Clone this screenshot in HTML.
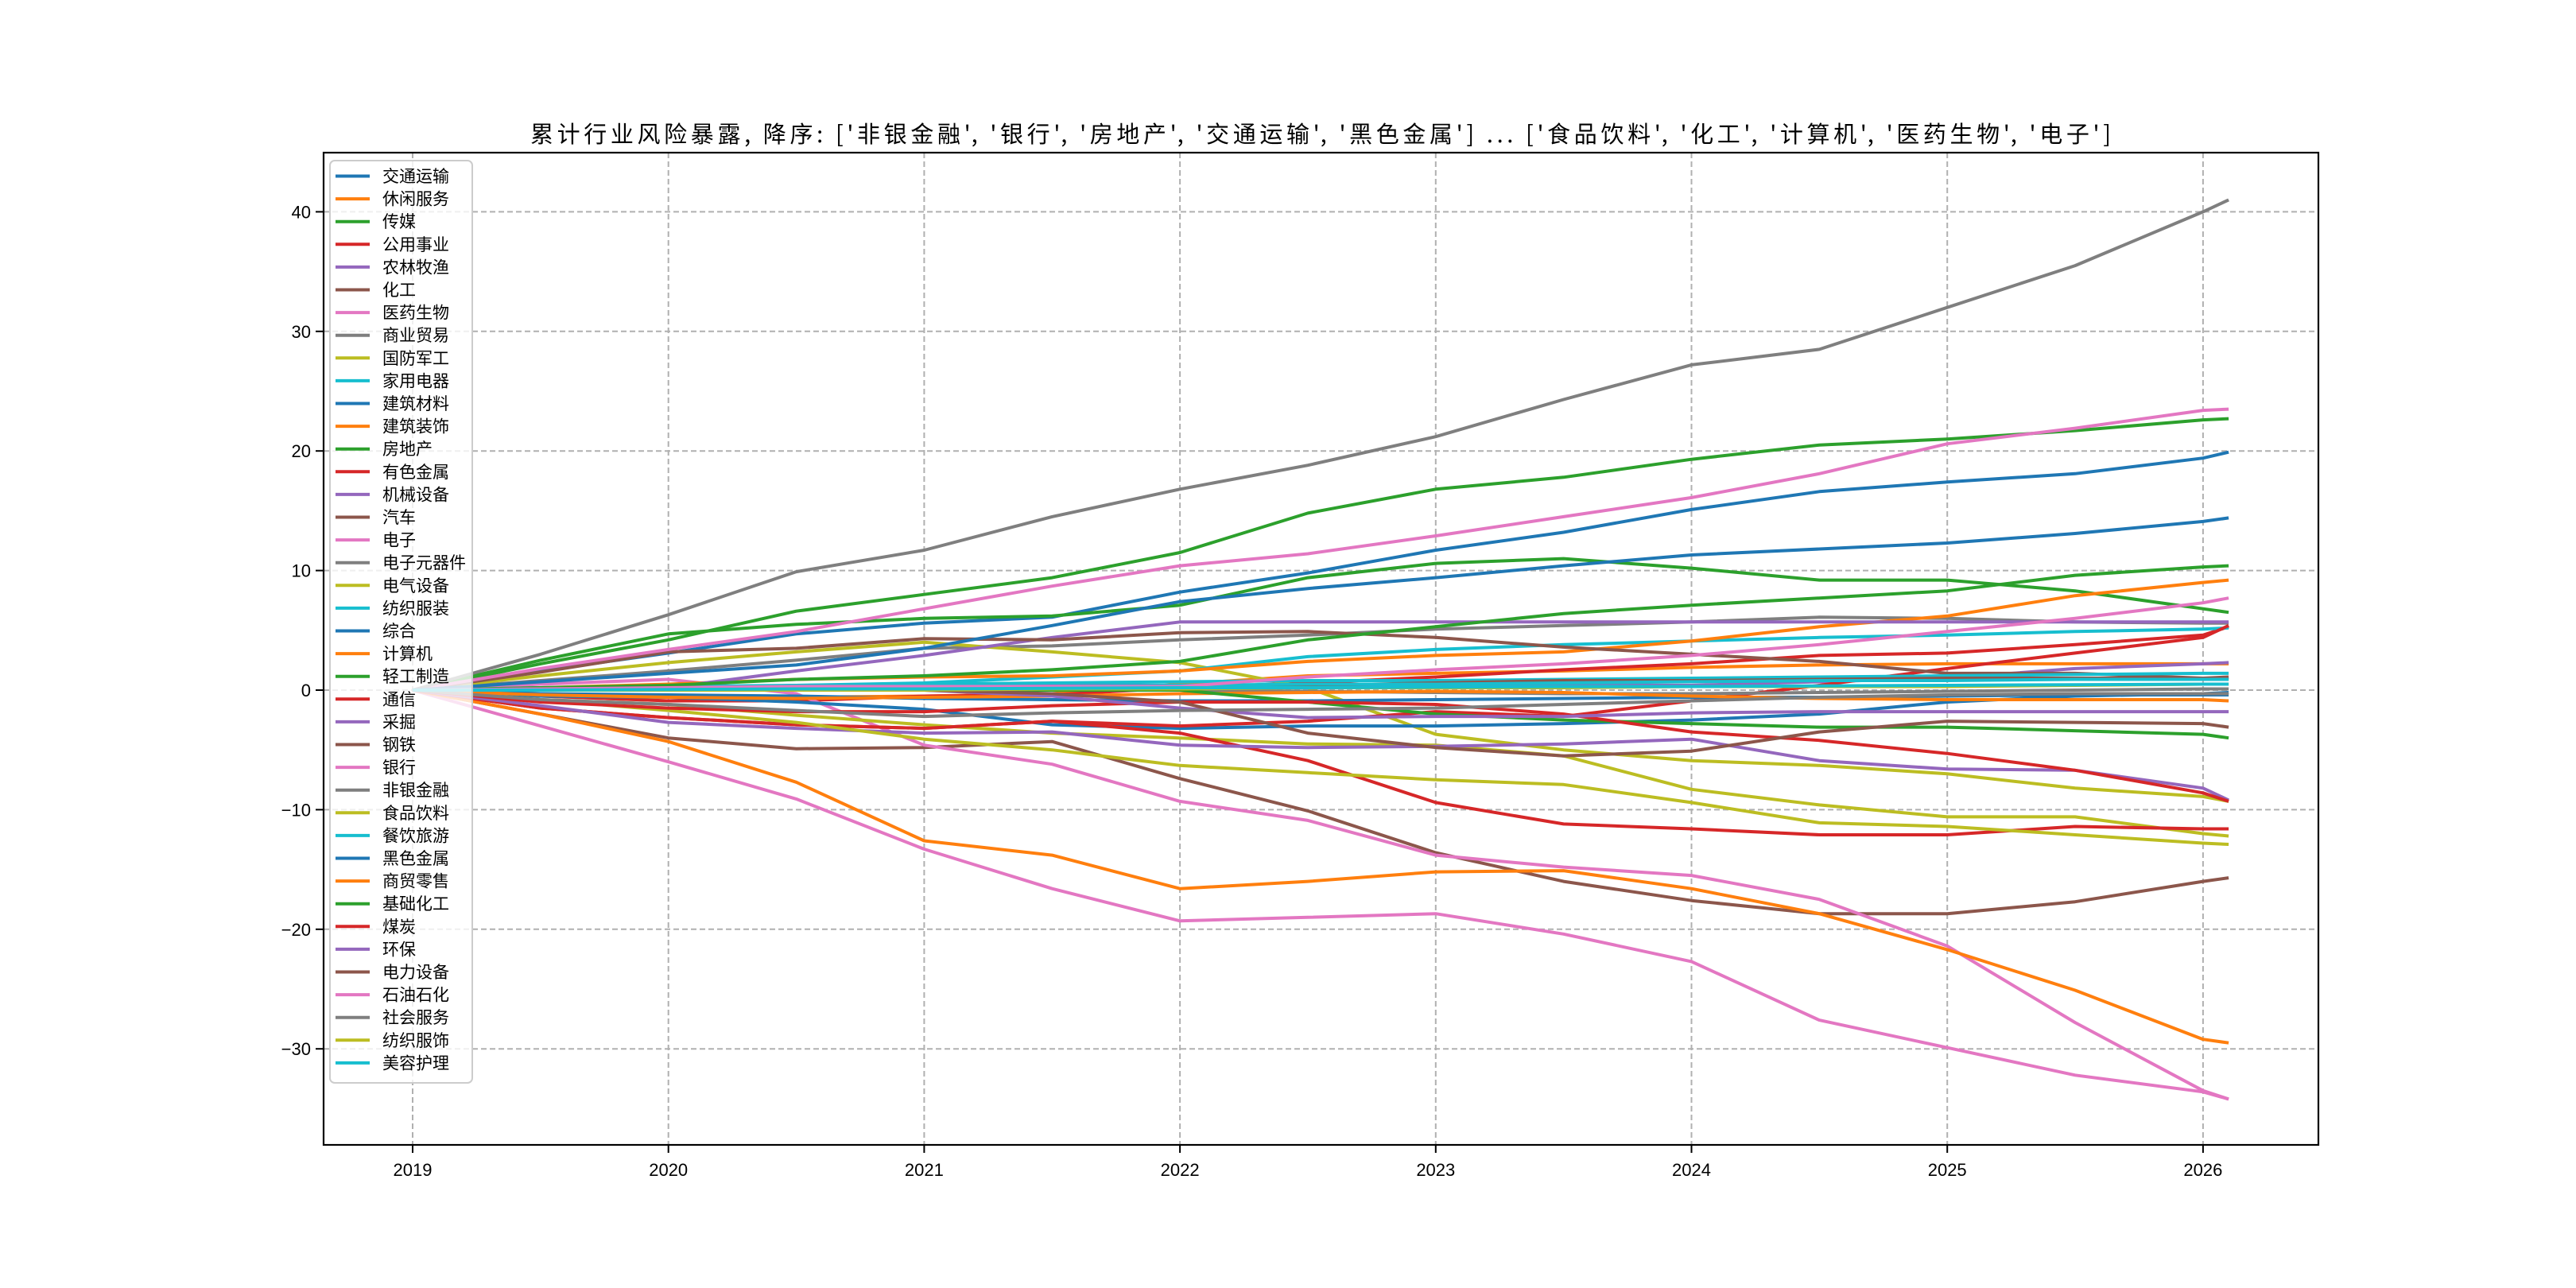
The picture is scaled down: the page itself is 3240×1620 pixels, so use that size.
<!DOCTYPE html>
<html><head><meta charset="utf-8"><style>
html,body{margin:0;padding:0;background:#fff;}
svg{display:block;}
text{font-family:"Liberation Sans","WenQuanYi Zen Hei","Noto Sans CJK SC",sans-serif;}
#title{font-family:"WenQuanYi Zen Hei","Noto Sans CJK SC",sans-serif;}
</style></head><body>
<svg id="chart" width="3240" height="1620" viewBox="0 0 3240 1620" xmlns="http://www.w3.org/2000/svg">
<rect x="0" y="0" width="3240" height="1620" fill="#fff"/>
<text id="title" x="1661" y="179" text-anchor="middle" font-size="29" fill="#000" textLength="1988" lengthAdjust="spacing">累计行业风险暴露, 降序: ['非银金融', '银行', '房地产', '交通运输', '黑色金属'] ... ['食品饮料', '化工', '计算机', '医药生物', '电子']</text>
<g id="grid"></g><g id="series"></g><g id="axes"></g><g id="legend"></g>
</svg>
<script>
const times = [2019.0,2019.5,2020,2020.5,2021,2021.5,2022,2022.5,2023,2023.5,2024,2024.5,2025,2025.5,2026,2026.1];
const names = ['交通运输','休闲服务','传媒','公用事业','农林牧渔','化工','医药生物','商业贸易','国防军工','家用电器','建筑材料','建筑装饰','房地产','有色金属','机械设备','汽车','电子','电子元器件','电气设备','纺织服装','综合','计算机','轻工制造','通信','采掘','钢铁','银行','非银金融','食品饮料','餐饮旅游','黑色金属','商贸零售','基础化工','煤炭','环保','电力设备','石油石化','社会服务','纺织服饰','美容护理'];
const s00 = [0,1.6,3.1,4.7,5.6,6.1,8.2,9.8,11.7,13.2,15.1,16.6,17.4,18.1,19.4,19.9];
const s01 = [0,-0.3,-0.5,-0.6,-0.5,-0.3,0.5,1.2,1.4,1.6,1.9,2.1,2.2,2.2,2.2,2.2];
const s02 = [0,2.5,4.7,5.5,6,6.2,7.1,9.4,10.6,11,10.2,9.2,9.2,8.3,6.8,6.5];
const s03 = [0,-0.5,-0.9,-0.9,-0.5,-0.4,0.2,0.6,1.1,1.7,2.2,2.9,3.1,3.8,4.6,5.3];
const s04 = [0,0.2,0.3,0.3,0.4,0.4,0.4,0.4,0.4,0.4,0.4,0.7,1,1.8,2.2,2.3];
const s05 = [0,-2,-4,-4.9,-4.8,-4.3,-7.4,-10.1,-13.6,-16,-17.6,-18.7,-18.7,-17.7,-16,-15.7];
const s06 = [0,0.5,0.9,-0.3,-4.6,-6.2,-9.3,-10.9,-13.8,-14.8,-15.5,-17.5,-21.4,-27.8,-33.5,-34.2];
const s07 = [0,0.8,1.6,2.5,3.5,3.7,4.2,4.6,5.1,5.4,5.7,6.1,6,5.7,5.6,5.6];
const s08 = [0,1.2,2.3,3.2,4,3.2,2.3,0.2,-3.7,-5,-5.9,-6.3,-7,-8.2,-8.9,-9.3];
const s09 = [0,0,0.1,0.4,0.6,1.1,1.6,2.8,3.4,3.8,4.1,4.4,4.6,4.9,5.1,5.2];
const s10 = [0,-0.5,-0.6,-1,-1.6,-2.9,-3.2,-3,-3,-2.8,-2.5,-2,-1,-0.5,-0.3,-0.2];
const s11 = [0,0.2,0.5,0.9,1.1,1.2,1.6,2.4,2.9,3.2,4.1,5.3,6.2,7.9,9,9.2];
const s12 = [0,2.2,4.2,6.6,8,9.4,11.5,14.8,16.8,17.8,19.3,20.5,21,21.7,22.6,22.7];
const s13 = [0,-1.5,-2.3,-2.9,-3.2,-2.6,-3,-2.6,-1.8,-2.2,-0.9,0.4,1.8,3.1,4.4,5.4];
const s14 = [0,0.1,0.2,1.6,2.9,4.4,5.7,5.7,5.7,5.7,5.7,5.7,5.7,5.7,5.7,5.7];
const s15 = [0,1.5,3.2,3.5,4.3,4.2,4.8,4.9,4.4,3.6,3,2.4,1.4,1.4,1,0.9];
const s16 = [0,-3,-6,-9.1,-13.3,-16.6,-19.3,-19,-18.7,-20.4,-22.7,-27.6,-29.9,-32.2,-33.6,-34.2];
const s17 = [0,0.1,0.2,0.2,0.2,0.1,0,-0.1,-0.2,-0.3,-0.3,-0.2,-0.1,0,0.1,0.1];
const s18 = [0,-0.8,-1.2,-2.1,-2.9,-3.6,-4,-4.5,-4.6,-5.5,-8.3,-9.6,-10.6,-10.6,-12,-12.2];
const s19 = [0,0.2,0.3,0.4,0.5,0.6,0.7,0.8,0.8,0.9,1,1.1,1.2,1.3,1.4,1.4];
const s20 = [0,-0.3,-0.4,-0.5,-0.7,-0.8,-0.9,-0.9,-0.8,-0.7,-0.6,-0.6,-0.5,-0.4,-0.4,-0.4];
const s21 = [0,-2,-4.3,-7.7,-12.6,-13.8,-16.6,-16,-15.2,-15.1,-16.6,-18.7,-21.7,-25.1,-29.2,-29.5];
const s22 = [0,0.2,0.4,0.9,1.2,1.7,2.4,4.2,5.3,6.4,7.1,7.7,8.3,9.6,10.3,10.4];
const s23 = [0,-1.5,-2.3,-2.9,-3.2,-2.6,-3.6,-5.9,-9.4,-11.2,-11.6,-12.1,-12.1,-11.4,-11.6,-11.6];
const s24 = [0,-1.3,-2.7,-3.2,-3.6,-3.5,-4.6,-4.8,-4.7,-4.5,-4.1,-5.9,-6.6,-6.7,-8.2,-9.2];
const s25 = [0,0.1,0.1,0.2,0.3,0.3,0.3,0.4,0.6,0.8,0.8,0.9,1,1,1,1.1];
const s26 = [0,1.8,3.4,4.9,6.8,8.7,10.4,11.4,12.9,14.5,16.1,18.1,20.6,21.9,23.4,23.5];
const s27 = [0,3,6.3,9.9,11.7,14.5,16.8,18.8,21.2,24.3,27.2,28.5,32,35.5,40,41];
const s28 = [0,-0.8,-1.7,-2.7,-4.1,-5,-6.3,-6.9,-7.5,-7.9,-9.4,-11.1,-11.4,-12.1,-12.8,-12.9];
const s29 = [0,0.1,0.1,0.2,0.3,0.3,0.4,0.5,0.5,0.6,0.7,0.8,0.8,0.9,0.9,0.9];
const s30 = [0,0.7,1.4,2.1,3.5,5.4,7.4,8.5,9.4,10.4,11.3,11.8,12.3,13.1,14.1,14.4];
const s31 = [0,-0.4,-0.6,-0.7,-0.6,-0.5,-0.3,-0.2,-0.1,-0.2,-0.5,-0.7,-0.8,-0.8,-0.8,-0.9];
const s32 = [0,0,0,0,0,0,0,-1,-2,-2.5,-2.8,-3.1,-3.1,-3.4,-3.7,-4];
const s33 = [0,-1,-1.5,-1.8,-1.8,-1.3,-1,-1,-1.2,-2,-3.5,-4.2,-5.3,-6.7,-8.6,-9.3];
const s34 = [0,0,0,0,0,-0.5,-1.5,-2.3,-2.2,-2.2,-1.9,-1.8,-1.8,-1.8,-1.8,-1.8];
const s35 = [0,0,0,0,0,-0.3,-1,-3.6,-4.8,-5.5,-5.1,-3.5,-2.6,-2.7,-2.8,-3.1];
const s36 = [0,0.1,0.2,0.3,0.3,0.3,0.3,1.1,1.7,2.2,2.9,3.8,4.9,6,7.3,7.7];
const s37 = [0,-0.8,-1.2,-1.7,-2.2,-1.9,-1.7,-1.6,-1.5,-1.2,-0.9,-0.6,-0.4,-0.3,-0.3,-0.3];
const s38 = [0,0,0,0,0,0.1,0.1,0.2,0.2,0.2,0.3,0.3,0.3,0.4,0.5,0.5];
const s39 = [0,0,0.05,0.1,0.1,0.15,0.2,0.2,0.25,0.3,0.3,0.35,0.4,0.45,0.5,0.5];
const seriesValues = [s00,s01,s02,s03,s04,s05,s06,s07,s08,s09,s10,s11,s12,s13,s14,s15,s16,s17,s18,s19,s20,s21,s22,s23,s24,s25,s26,s27,s28,s29,s30,s31,s32,s33,s34,s35,s36,s37,s38,s39];
const xTicks = [2019,2020,2021,2022,2023,2024,2025,2026];
const yTicks = [-30,-20,-10,0,10,20,30,40];

const palette = ['#1f77b4','#ff7f0e','#2ca02c','#d62728','#9467bd','#8c564b','#e377c2','#7f7f7f','#bcbd22','#17becf'];
const L=407,R=2916,T=192,B=1440;
const X0=2019, XPX=519, XSCALE=321.7;
const Y0PX=868, YSCALE=15.04;
function xs(t){return XPX+(t-X0)*XSCALE;}
function ys(v){return Y0PX-v*YSCALE;}
const NS='http://www.w3.org/2000/svg';
function mk(tag,attrs,parent){const e=document.createElementNS(NS,tag);for(const k in attrs)e.setAttribute(k,attrs[k]);parent.appendChild(e);return e;}

const grid=document.getElementById('grid');
xTicks.forEach(t=>{
  const l=mk('line',{x1:xs(t),x2:xs(t),y1:T,y2:B,stroke:'#b0b0b0','stroke-width':2,'stroke-dasharray':'7,4'},grid);
  
  
});
yTicks.forEach(v=>{
  const l=mk('line',{x1:L,x2:R,y1:ys(v),y2:ys(v),stroke:'#b0b0b0','stroke-width':2,'stroke-dasharray':'7,4'},grid);
  
  
});

const sg=document.getElementById('series');
seriesValues.forEach((vals,i)=>{
  const d=vals.map((v,j)=>(j?'L':'M')+xs(times[j]).toFixed(1)+','+ys(v).toFixed(1)).join(' ');
  const p=mk('path',{d:d,fill:'none',stroke:palette[i%10],'stroke-width':4,'stroke-linejoin':'round'},sg);
  
  
});

const ax=document.getElementById('axes');
const frame=mk('rect',{x:L,y:T,width:R-L,height:B-T,fill:'none',stroke:'#000','stroke-width':2.2},ax);


xTicks.forEach(t=>{
  mk('line',{x1:xs(t),x2:xs(t),y1:B,y2:B+10,stroke:'#000','stroke-width':2},ax);
  const tx=mk('text',{x:xs(t),y:B+39,'text-anchor':'middle','font-size':22,fill:'#000'},ax);
  tx.textContent=t;
  
  
});
yTicks.forEach(v=>{
  mk('line',{x1:L-10,x2:L,y1:ys(v),y2:ys(v),stroke:'#000','stroke-width':2},ax);
  const tx=mk('text',{x:L-16,y:ys(v)+8,'text-anchor':'end','font-size':22,fill:'#000'},ax);
  tx.textContent=v<0?'\u2212'+Math.abs(v):v;
  
  
});

const lg=document.getElementById('legend');
const box=mk('rect',{x:415,y:202,width:179,height:1160,rx:6,fill:'#fff','fill-opacity':0.8,stroke:'#cccccc','stroke-width':2},lg);


names.forEach((n,i)=>{
  const y=221.5+i*28.6;
  const g=mk('g',{},lg);
  
  
  mk('line',{x1:422,x2:465,y1:y,y2:y,stroke:palette[i%10],'stroke-width':4},g);
  const tx=mk('text',{x:481,y:y+7.5,'font-size':21,fill:'#000'},g);
  tx.textContent=n;
});
</script>
</body></html>
